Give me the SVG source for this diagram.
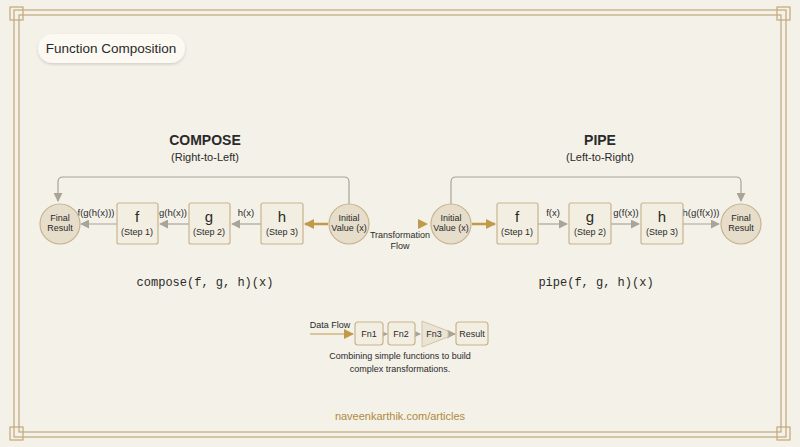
<svg xmlns="http://www.w3.org/2000/svg" width="800" height="447" viewBox="0 0 800 447">
<defs>
<style>
text{font-family:"Liberation Sans",Arial,sans-serif;fill:#2a2a2a;text-anchor:middle}
.box{fill:#f3eee2;stroke:#c7b48e;stroke-width:1.2}
.circ{fill:#e6ddcb;stroke:#c7b48e;stroke-width:1.2}
.fr{fill:none;stroke:#c2a878;stroke-width:1.2}
.ln{fill:none;stroke:#aaa397;stroke-width:1.2}
.big{font-size:15px}
.sm{font-size:9px}
.lb{font-size:9.5px}
.mono{font-family:"Liberation Mono","DejaVu Sans Mono",monospace;font-size:12px}
</style>
<marker id="ar" viewBox="0 0 10 10" refX="9" refY="5" markerWidth="9" markerHeight="9" markerUnits="userSpaceOnUse" orient="auto"><path d="M0,0 L10,5 L0,10 z" fill="#aaa397"/></marker>
<marker id="ag" viewBox="0 0 10 10" refX="9" refY="5" markerWidth="10" markerHeight="10" markerUnits="userSpaceOnUse" orient="auto"><path d="M0,0 L10,5 L0,10 z" fill="#c09a4a"/></marker>
<linearGradient id="gg" x1="0" x2="1"><stop offset="0" stop-color="#c09a4a" stop-opacity="0.1"/><stop offset="1" stop-color="#c09a4a"/></linearGradient>
<filter id="sh"><feDropShadow dx="0" dy="1.5" stdDeviation="1.5" flood-opacity="0.15"/></filter>
</defs>
<rect width="800" height="447" fill="#f4f1e8"/>
<g id="frame">
<rect class="fr" x="14" y="10" width="772" height="427"/>
<rect class="fr" x="19" y="15" width="762" height="417"/>
<rect class="fr" x="10" y="7" width="13" height="13"/>
<rect class="fr" x="777" y="7" width="13" height="13"/>
<rect class="fr" x="10" y="427" width="13" height="13"/>
<rect class="fr" x="777" y="427" width="13" height="13"/>
</g>
<g id="title"><rect x="38" y="34" width="147" height="29" rx="14.5" fill="#fbf9f2" filter="url(#sh)"/><text x="111" y="53" font-size="13.5">Function Composition</text></g>
<g id="headers">
<text x="205" y="145" font-size="14" font-weight="bold">COMPOSE</text>
<text x="205" y="161" font-size="11">(Right-to-Left)</text>
<text x="600" y="145" font-size="14" font-weight="bold">PIPE</text>
<text x="600" y="161" font-size="11">(Left-to-Right)</text>
<text x="205" y="286" class="mono">compose(f, g, h)(x)</text>
<text x="596" y="286" class="mono">pipe(f, g, h)(x)</text>
</g>
<g id="connectors">
<path class="ln" d="M349,204 V182 Q349,177 344,177 H63 Q58,177 58,182 V201" marker-end="url(#ar)"/>
<path class="ln" d="M451,204 V182 Q451,177 456,177 H736 Q741,177 741,182 V201" marker-end="url(#ar)"/>
<line x1="328" y1="224" x2="305" y2="224" stroke="#c09a4a" stroke-width="2.5" marker-end="url(#ag)"/>
<line class="ln" x1="261" y1="224" x2="232" y2="224" marker-end="url(#ar)"/>
<line class="ln" x1="189" y1="224" x2="160" y2="224" marker-end="url(#ar)"/>
<line class="ln" x1="117" y1="224" x2="81" y2="224" marker-end="url(#ar)"/>
<line x1="375" y1="224" x2="427" y2="224" stroke="url(#gg)" stroke-width="2.5" marker-end="url(#ag)"/>
<line x1="472" y1="224" x2="495" y2="224" stroke="#c09a4a" stroke-width="2.5" marker-end="url(#ag)"/>
<line class="ln" x1="538" y1="224" x2="567" y2="224" marker-end="url(#ar)"/>
<line class="ln" x1="611" y1="224" x2="639" y2="224" marker-end="url(#ar)"/>
<line class="ln" x1="683" y1="224" x2="719" y2="224" marker-end="url(#ar)"/>
<text x="96" y="216" class="lb">f(g(h(x)))</text>
<text x="173" y="216" class="lb">g(h(x))</text>
<text x="246" y="216" class="lb">h(x)</text>
<text x="553" y="216" class="lb">f(x)</text>
<text x="626" y="216" class="lb">g(f(x))</text>
<text x="701" y="216" class="lb">h(g(f(x)))</text>
<text x="400" y="238" class="sm">Transformation</text>
<text x="400" y="249" class="sm">Flow</text>
<line x1="310" y1="334" x2="353" y2="334" stroke="#c09a4a" stroke-width="1.2" marker-end="url(#ag)"/>
<line class="ln" x1="383" y1="334" x2="387" y2="334" marker-end="url(#ar)"/>
<line class="ln" x1="415" y1="334" x2="420" y2="334" marker-end="url(#ar)"/>
<line class="ln" x1="448" y1="334" x2="455" y2="334" marker-end="url(#ar)"/>
</g>
<g id="c-final"><circle class="circ" cx="60" cy="224" r="20"/><text x="60" y="221" class="sm">Final</text><text x="60" y="231" class="sm">Result</text></g>
<g id="c-f"><rect class="box" x="117" y="203" width="41" height="41" rx="2"/><text x="137" y="222" class="big">f</text><text x="137" y="235" class="sm">(Step 1)</text></g>
<g id="c-g"><rect class="box" x="189" y="203" width="41" height="41" rx="2"/><text x="209" y="222" class="big">g</text><text x="209" y="235" class="sm">(Step 2)</text></g>
<g id="c-h"><rect class="box" x="261" y="203" width="42" height="41" rx="2"/><text x="282" y="222" class="big">h</text><text x="282" y="235" class="sm">(Step 3)</text></g>
<g id="c-init"><circle class="circ" cx="349" cy="224" r="20"/><text x="349" y="221" class="sm">Initial</text><text x="349" y="231" class="sm">Value (x)</text></g>
<g id="p-init"><circle class="circ" cx="451" cy="224" r="20"/><text x="451" y="221" class="sm">Initial</text><text x="451" y="231" class="sm">Value (x)</text></g>
<g id="p-f"><rect class="box" x="497" y="203" width="41" height="41" rx="2"/><text x="517" y="222" class="big">f</text><text x="517" y="235" class="sm">(Step 1)</text></g>
<g id="p-g"><rect class="box" x="569" y="203" width="42" height="41" rx="2"/><text x="590" y="222" class="big">g</text><text x="590" y="235" class="sm">(Step 2)</text></g>
<g id="p-h"><rect class="box" x="641" y="203" width="42" height="41" rx="2"/><text x="662" y="222" class="big">h</text><text x="662" y="235" class="sm">(Step 3)</text></g>
<g id="p-final"><circle class="circ" cx="741" cy="224" r="20"/><text x="741" y="221" class="sm">Final</text><text x="741" y="231" class="sm">Result</text></g>
<g id="legend">
<text x="330" y="328" class="sm">Data Flow</text>
<g id="fn1"><rect class="box" x="355" y="322" width="28" height="23" rx="3"/><text x="369" y="337" class="sm">Fn1</text></g>
<g id="fn2"><rect class="box" x="388" y="322" width="27" height="23" rx="3"/><text x="401" y="337" class="sm">Fn2</text></g>
<g id="fn3"><path d="M422,321 L448,331 L448,337 L422,347 Z" fill="#ebe4d5" stroke="#d2c4a6" stroke-width="1"/><text x="434" y="337" class="sm">Fn3</text></g>
<g id="res"><rect class="box" x="456" y="322" width="32" height="23" rx="3"/><text x="472" y="337" class="sm">Result</text></g>
<text x="400" y="359" class="sm">Combining simple functions to build</text>
<text x="400" y="372" class="sm">complex transformations.</text>
</g>
<text x="400" y="420" font-size="11" style="fill:#b08a3e">naveenkarthik.com/articles</text>
</svg>
